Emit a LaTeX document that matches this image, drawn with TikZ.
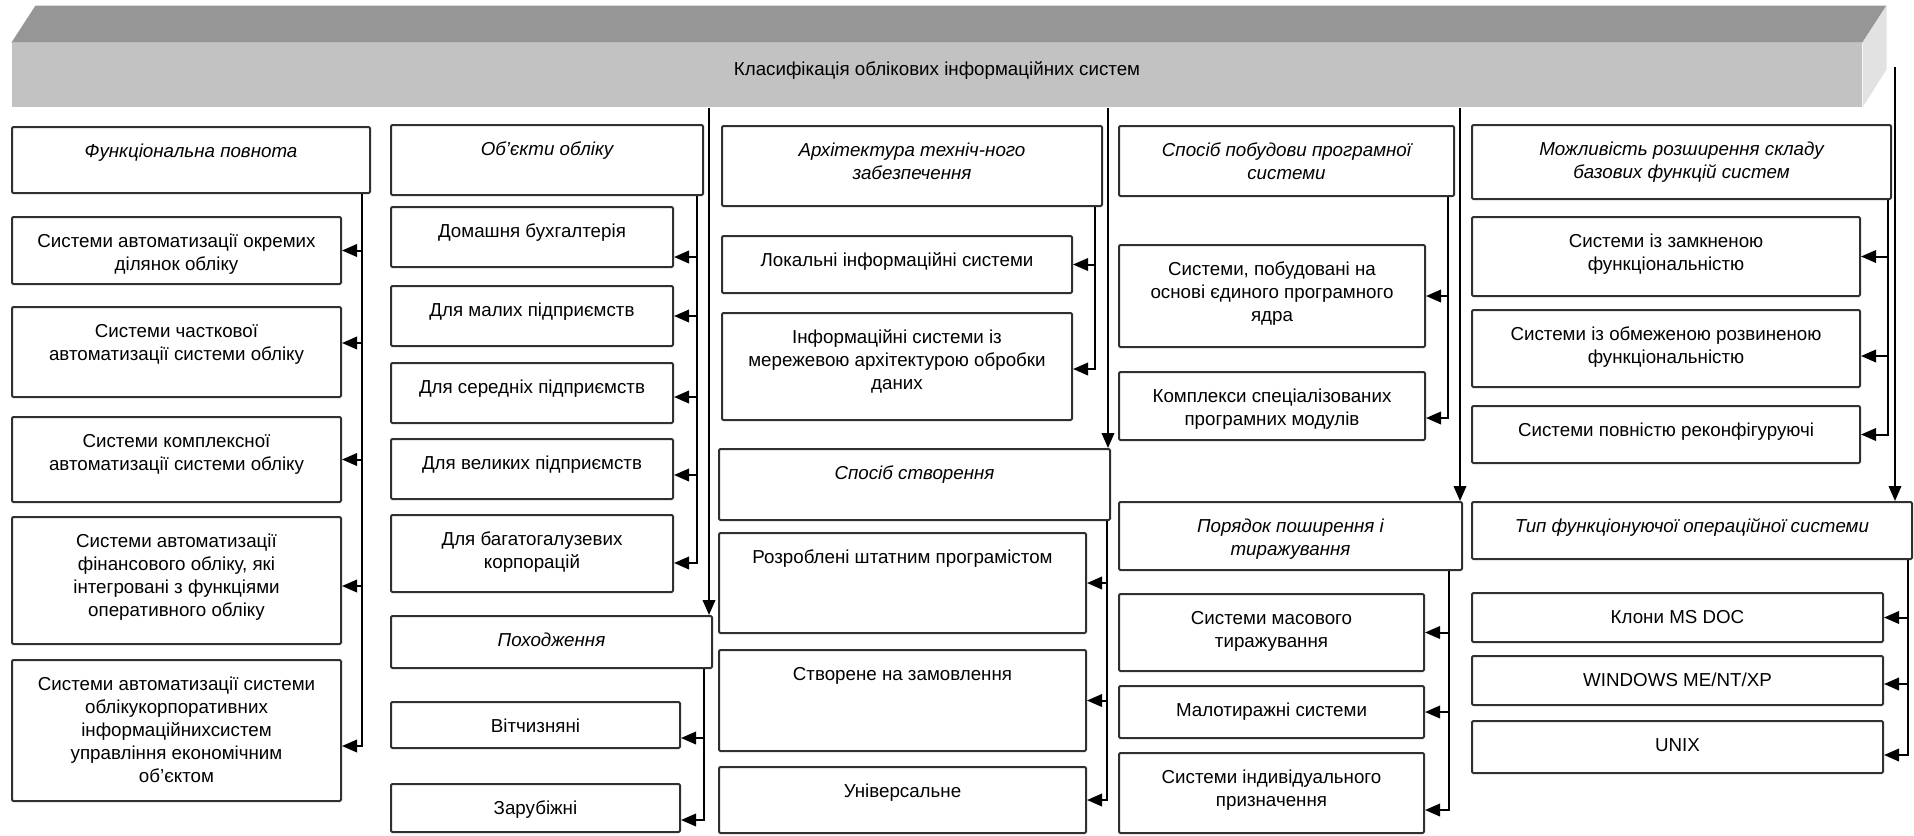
\documentclass[tikz,border=0pt]{standalone}
\usepackage{fontspec}
\setmainfont{Liberation Sans}
\usetikzlibrary{arrows.meta,calc}
\definecolor{BanTop}{HTML}{969696}
\definecolor{BanFace}{HTML}{C2C2C2}
\definecolor{BanSide}{HTML}{E2E2E2}
\definecolor{CellLine}{HTML}{303030}

\begin{document}
\begin{tikzpicture}[x=0.4pt,y=-0.4pt,
  cell/.style={draw=CellLine,line width=0.8pt,rounded corners=0.5pt,inner sep=0pt},
  txt/.style={anchor=north,align=center,inner sep=0pt,font=\fontsize{7.5}{9.2}\selectfont},
  hdt/.style={txt,font=\fontsize{7.5}{9.2}\selectfont\itshape},
  link/.style={line width=0.8pt},
  arr/.style={link,-{Triangle[length=6pt,width=5pt]}}]
  \def\blk#1#2#3#4#5#6#7{
    \node[cell,minimum width={(#5-#3)*0.4pt},minimum height={(#6-#4)*0.4pt}] (#1) at ({(#3+#5)/2},{(#4+#6)/2}) {};
    \node[#2] (#1-t) at ([yshift=-5.8pt]#1.north) {\strut #7};
  }
  \def\fan#1#2#3{
    \foreach \ch/\dy in {#3}
      \draw[arr] ([xshift=#2]#1.south east) |- ([yshift=\dy]\ch.east);
  }
  \useasboundingbox (0,0) rectangle (1914,835);

  \node[fill=BanFace,inner sep=0pt,minimum width=740pt,minimum height=25.6pt] (ban) at (937,75) {};
  \fill[BanTop] (ban.north west) -- ++(24,-37) -- ([shift={(24,-37)}]ban.north east) -- (ban.north east) -- cycle;
  \fill[BanSide] (ban.north east) -- ++(24,-37) -- ++(0,64) -- (ban.south east) -- cycle;
  \node[txt,anchor=center] (title) at (937,70) {Класифікація облікових інформаційних систем};

  \blk{fp}{hdt}{12}{127}{370}{193}{Функціональна повнота}
  \blk{fp1}{txt}{12}{217}{341}{284}{Системи автоматизації окремих\\ділянок обліку}
  \blk{fp2}{txt}{12}{307}{341}{397}{Системи часткової\\автоматизації системи обліку}
  \blk{fp3}{txt}{12}{417}{341}{502}{Системи комплексної\\автоматизації системи обліку}
  \blk{fp4}{txt}{12}{517}{341}{644}{Системи автоматизації\\фінансового обліку, які\\інтегровані з функціями\\оперативного обліку}
  \blk{fp5}{txt}{12}{660}{341}{801}{Системи автоматизації системи\\облікукорпоративних\\інформаційнихсистем\\управління економічним\\об’єктом}

  \blk{op}{hdt}{391}{125}{703}{195}{Об’єкти обліку}
  \blk{dom}{txt}{391}{207}{673}{267}{Домашня бухгалтерія}
  \blk{mal}{txt}{391}{286}{673}{346}{Для малих підприємств}
  \blk{ser}{txt}{391}{363}{673}{423}{Для середніх підприємств}
  \blk{vel}{txt}{391}{439}{673}{499}{Для великих підприємств}
  \blk{bag}{txt}{391}{515}{673}{592}{Для багатогалузевих\\корпорацій}
  \blk{pkh}{hdt}{391}{616}{712}{668}{Походження}
  \blk{vit}{txt}{391}{702}{680}{748}{Вітчизняні}
  \blk{zar}{txt}{391}{784}{680}{832}{Зарубіжні}

  \blk{arh}{hdt}{722}{126}{1102}{206}{Архітектура техніч-ного\\забезпечення}
  \blk{lok}{txt}{722}{236}{1072}{293}{Локальні інформаційні системи}
  \blk{mer}{txt}{722}{313}{1072}{420}{Інформаційні системи із\\мережевою архітектурою обробки\\даних}
  \blk{ssp}{hdt}{719}{449}{1110}{520}{Спосіб створення}
  \blk{roz}{txt}{719}{533}{1086}{633}{Розроблені штатним програмістом}
  \blk{stv}{txt}{719}{650}{1086}{751}{Створене на замовлення}
  \blk{uni}{txt}{719}{767}{1086}{833}{Універсальне}

  \blk{pob}{hdt}{1119}{126}{1454}{196}{Спосіб побудови програмної\\системи}
  \blk{yad}{txt}{1119}{245}{1425}{347}{Системи, побудовані на\\основі єдиного програмного\\ядра}
  \blk{kom}{txt}{1119}{372}{1425}{440}{Комплекси спеціалізованих\\програмних модулів}
  \blk{por}{hdt}{1119}{502}{1462}{570}{Порядок поширення і\\тиражування}
  \blk{mas}{txt}{1119}{594}{1424}{671}{Системи масового\\тиражування}
  \blk{mlt}{txt}{1119}{686}{1424}{738}{Малотиражні системи}
  \blk{ind}{txt}{1119}{753}{1424}{833}{Системи індивідуального\\призначення}

  \blk{mzh}{hdt}{1472}{125}{1891}{199}{Можливість розширення складу\\базових функцій систем}
  \blk{zam}{txt}{1472}{217}{1860}{296}{Системи із замкненою\\функціональністю}
  \blk{obm}{txt}{1472}{310}{1860}{387}{Системи із обмеженою розвиненою\\функціональністю}
  \blk{rek}{txt}{1472}{406}{1860}{463}{Системи повністю реконфігуруючі}
  \blk{tip}{hdt}{1472}{502}{1912}{559}{Тип функціонуючої операційної системи}
  \blk{dos}{txt}{1472}{593}{1883}{642}{Клони MS DOC}
  \blk{win}{txt}{1472}{656}{1883}{705}{WINDOWS ME/NT/XP}
  \blk{unx}{txt}{1472}{721}{1883}{773}{UNIX}

  \fan{fp}{-3.6pt}{fp1/0pt,fp2/3.6pt,fp3/0pt,fp4/-2.2pt,fp5/-6.2pt}
  \fan{op}{-2.8pt}{dom/-8pt,mal/0pt,ser/-1.6pt,vel/-2.4pt,bag/-3.8pt}
  \fan{pkh}{-3.6pt}{vit/-5.2pt,zar/-4.8pt}
  \fan{arh}{-3.2pt}{lok/0pt,mer/-1pt}
  \fan{ssp}{-1.6pt}{roz/0pt,stv/0pt,uni/0pt}
  \fan{pob}{-2.8pt}{yad/0pt,kom/-4.8pt}
  \fan{por}{-5.6pt}{mas/0pt,mlt/0pt,ind/-6.8pt}
  \fan{mzh}{-1.6pt}{zam/0pt,obm/-3pt,rek/0pt}
  \fan{tip}{-2pt}{dos/0pt,win/-1.4pt,unx/-3.2pt}

  \draw[arr] ([xshift=-1.6pt]pkh.north east |- ban.south) -- ([xshift=-1.6pt]pkh.north east);
  \draw[arr] ([xshift=-1.2pt]ssp.north east |- ban.south) -- ([xshift=-1.2pt]ssp.north east);
  \draw[arr] ([xshift=-1.2pt]por.north east |- ban.south) -- ([xshift=-1.2pt]por.north east);
  \coordinate (rtop) at (1895,67);
  \draw[arr] (rtop) -- (rtop |- tip.north);
\end{tikzpicture}
\end{document}
